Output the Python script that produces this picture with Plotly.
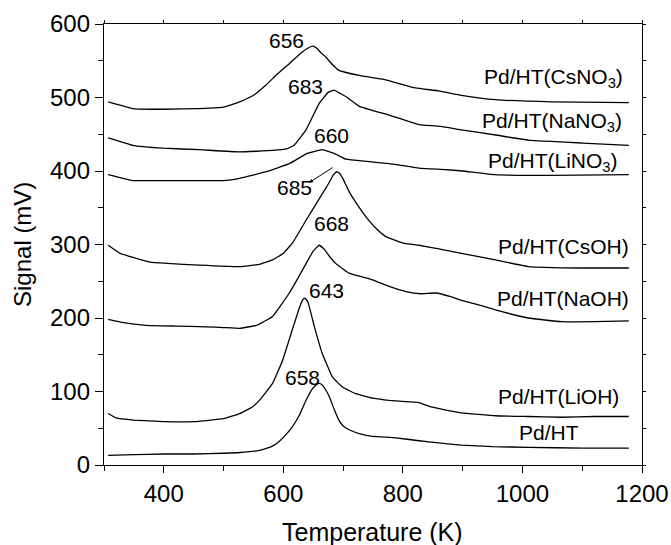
import plotly.graph_objects as go

# ---- data ----
t_pdht = [307, 350, 400, 450, 500, 527, 560, 580, 593, 605, 615, 627, 638, 648, 655, 660, 665, 671, 677, 685, 693, 700, 710, 730, 749, 788, 827, 860, 898, 950, 1010, 1100, 1178]
v_pdht = [13, 14, 15, 15, 16, 17, 20, 25, 32, 42, 52, 68, 88, 103, 109, 111, 109, 102, 93, 76, 61, 53, 48, 42, 39, 37, 33, 30, 27, 25, 24, 23, 23]

t_lioh = [307, 320, 350, 400, 450, 500, 527, 548, 560, 582, 599, 615, 626, 632, 636, 641, 652, 665, 682, 699, 721, 750, 777, 810, 827, 843, 870, 898, 955, 1010, 1065, 1120, 1178]
v_lioh = [70, 64, 61, 59, 59, 63, 70, 79, 88, 111, 143, 184, 212, 224, 227, 222, 188, 152, 120, 106, 97, 91, 88, 86, 85, 80, 75, 71, 67, 66, 65, 66, 66]

t_naoh = [307, 330, 370, 420, 470, 500, 527, 555, 582, 610, 625, 638, 650, 660, 668, 678, 688, 710, 749, 777, 805, 830, 855, 880, 898, 922, 955, 1010, 1065, 1120, 1178]
v_naoh = [198, 194, 190, 189, 188, 187, 186, 190, 202, 234, 255, 274, 291, 299, 294, 283, 274, 261, 252, 243, 236, 233, 234, 229, 224, 219, 211, 200, 195, 195, 196]

t_csoh = [307, 327, 377, 460, 527, 560, 582, 600, 616, 638, 660, 675, 684, 689, 694, 700, 710, 724, 738, 755, 771, 800, 827, 860, 898, 955, 1010, 1100, 1178]
v_csoh = [299, 288, 276, 272, 270, 273, 279, 288, 303, 333, 362, 382, 395, 399, 397, 389, 372, 354, 338, 322, 311, 302, 299, 294, 288, 279, 270, 268, 268]

t_lino3 = [307, 348, 400, 460, 500, 527, 571, 610, 640, 665, 685, 705, 740, 777, 827, 870, 900, 955, 1050, 1178]
v_lino3 = [395, 387, 387, 387, 387, 390, 399, 410, 424, 429, 424, 416, 413, 410, 404, 402, 400, 395, 394, 395]

t_nano3 = [307, 348, 400, 460, 527, 582, 605, 618, 638, 660, 675, 685, 694, 705, 727, 777, 827, 860, 898, 955, 1010, 1100, 1178]
v_nano3 = [445, 435, 431, 429, 426, 428, 430, 435, 456, 492, 507, 510, 506, 501, 488, 476, 463, 461, 456, 449, 442, 438, 435]

t_csno3 = [307, 348, 400, 460, 500, 527, 550, 571, 590, 610, 630, 643, 649, 656, 664, 671, 682, 693, 710, 727, 771, 821, 860, 898, 955, 1050, 1178]
v_csno3 = [494, 485, 484, 485, 487, 494, 503, 517, 532, 546, 561, 568, 570, 567, 560, 555, 545, 537, 533, 530, 524, 513, 509, 503, 497, 494, 493]

series_names = ["Pd/HT", "Pd/HT(LiOH)", "Pd/HT(NaOH)", "Pd/HT(CsOH)",
                "Pd/HT(LiNO<sub>3</sub>)", "Pd/HT(NaNO<sub>3</sub>)", "Pd/HT(CsNO<sub>3</sub>)"]
series_t = [t_pdht, t_lioh, t_naoh, t_csoh, t_lino3, t_nano3, t_csno3]
series_v = [v_pdht, v_lioh, v_naoh, v_csoh, v_lino3, v_nano3, v_csno3]

# series label anchor (right edge) positions
label_x = [1098, 1165, 1182, 1182, 1163, 1170, 1172]
label_y = [44, 93, 227, 297, 412, 467, 526]

# peak labels
peak_text = ["658", "643", "668", "685", "660", "683", "656"]
peak_x = [632, 672, 681, 619, 681, 637, 605]
peak_y = [119, 237, 328, 377, 448, 515, 578]

x_ticks = [400, 600, 800, 1000, 1200]
y_ticks = [0, 100, 200, 300, 400, 500, 600]

FONT = "Liberation Sans, Arial, sans-serif"

W, H = 671, 545
ML, MR, MT, MB = 104, 29, 24, 80
pw, ph = W - ML - MR, H - MT - MB

fig = go.Figure()
for name, t, v in zip(series_names, series_t, series_v):
    fig.add_trace(go.Scatter(x=t, y=v, mode="lines", name=name,
                             line=dict(color="black", width=1.3, shape="spline", smoothing=0.3),
                             showlegend=False, hoverinfo="skip"))

annotations = []
for name, x, y in zip(series_names, label_x, label_y):
    annotations.append(dict(x=x, y=y, xref="x", yref="y", text=name, showarrow=False,
                            xanchor="right", yanchor="middle",
                            font=dict(family=FONT, size=21, color="black")))
for txt, x, y in zip(peak_text, peak_x, peak_y):
    annotations.append(dict(x=x, y=y, xref="x", yref="y", text=txt, showarrow=False,
                            xanchor="center", yanchor="middle",
                            font=dict(family=FONT, size=21, color="black")))
# arrow from the CsOH peak toward "685"
annotations.append(dict(x=643, y=384, ax=685, ay=406, xref="x", yref="y", axref="x", ayref="y",
                        text="", showarrow=True, arrowhead=2, arrowsize=0.8, arrowwidth=1,
                        arrowcolor="black"))
# axis titles (placed in paper coordinates)
annotations.append(dict(x=(372 - ML) / pw, y=(H - MB - 532) / ph, xref="paper", yref="paper",
                        text="Temperature (K)", showarrow=False, xanchor="center", yanchor="middle",
                        font=dict(family=FONT, size=25, color="black")))
annotations.append(dict(x=(23 - ML) / pw, y=(H - MB - 245) / ph, xref="paper", yref="paper",
                        text="Signal (mV)", textangle=-90, showarrow=False,
                        xanchor="center", yanchor="middle",
                        font=dict(family=FONT, size=24, color="black")))

axis_common = dict(showline=True, linecolor="black", linewidth=1.3, showgrid=False, zeroline=False,
                   ticks="outside", tickcolor="black", tickwidth=1.2, automargin=False,
                   tickfont=dict(family=FONT, size=24, color="black"))

fig.update_layout(
    width=W, height=H,
    margin=dict(l=ML, r=MR, t=MT, b=MB, autoexpand=False),
    plot_bgcolor="white", paper_bgcolor="white",
    xaxis=dict(range=[300, 1200], tickvals=x_ticks, ticklen=7,
               minor=dict(dtick=100, tick0=300, ticks="outside", ticklen=5, tickcolor="black", tickwidth=1.2),
               **axis_common),
    yaxis=dict(range=[0, 600], tickvals=y_ticks, ticklen=8,
               minor=dict(dtick=50, tick0=0, ticks="outside", ticklen=5, tickcolor="black", tickwidth=1.2),
               **axis_common),
    xaxis2=dict(range=[300, 1200], overlaying="x", side="top", showline=True, linecolor="black",
                linewidth=1.3, showgrid=False, zeroline=False, ticks="outside", ticklen=3,
                tickcolor="black", dtick=100, tick0=300, showticklabels=False, automargin=False),
    yaxis2=dict(range=[0, 600], overlaying="y", side="right", showline=True, linecolor="black",
                linewidth=1.3, showgrid=False, zeroline=False, ticks="outside", ticklen=3,
                tickcolor="black", dtick=50, tick0=0, showticklabels=False, automargin=False),
    annotations=annotations,
    font=dict(family=FONT, color="black"),
)
# invisible trace so the secondary axes are drawn
fig.add_trace(go.Scatter(x=[300], y=[0], xaxis="x2", yaxis="y2", mode="markers",
                         marker=dict(opacity=0), showlegend=False, hoverinfo="skip"))

fig.write_html("out.html", config={"displayModeBar": False},
               post_script="document.body.style.margin='0px';document.body.style.overflow='hidden';")
